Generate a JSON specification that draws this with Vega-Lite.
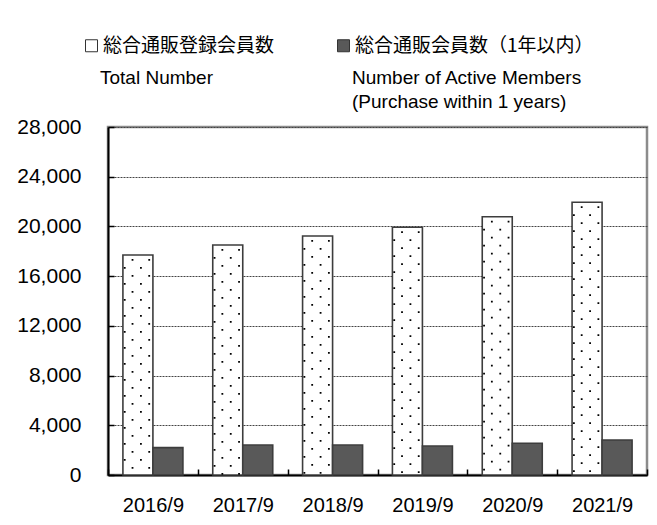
{
  "$schema": "https://vega.github.io/schema/vega-lite/v6.json",
  "autosize": "none",
  "padding": {"left": 108, "top": 127, "right": 10, "bottom": 50},
  "width": 539,
  "height": 348,
  "background": "white",
  "data": {
    "values": [
      {"date": "2016/9", "series": "総合通販登録会員数", "series_en": "Total Number", "value": 17700},
      {"date": "2016/9", "series": "総合通販会員数（1年以内）", "series_en": "Number of Active Members (Purchase within 1 years)", "value": 2200},
      {"date": "2017/9", "series": "総合通販登録会員数", "series_en": "Total Number", "value": 18500},
      {"date": "2017/9", "series": "総合通販会員数（1年以内）", "series_en": "Number of Active Members (Purchase within 1 years)", "value": 2410},
      {"date": "2018/9", "series": "総合通販登録会員数", "series_en": "Total Number", "value": 19230},
      {"date": "2018/9", "series": "総合通販会員数（1年以内）", "series_en": "Number of Active Members (Purchase within 1 years)", "value": 2410},
      {"date": "2019/9", "series": "総合通販登録会員数", "series_en": "Total Number", "value": 19930},
      {"date": "2019/9", "series": "総合通販会員数（1年以内）", "series_en": "Number of Active Members (Purchase within 1 years)", "value": 2330},
      {"date": "2020/9", "series": "総合通販登録会員数", "series_en": "Total Number", "value": 20780},
      {"date": "2020/9", "series": "総合通販会員数（1年以内）", "series_en": "Number of Active Members (Purchase within 1 years)", "value": 2550},
      {"date": "2021/9", "series": "総合通販登録会員数", "series_en": "Total Number", "value": 21940},
      {"date": "2021/9", "series": "総合通販会員数（1年以内）", "series_en": "Number of Active Members (Purchase within 1 years)", "value": 2820}
    ]
  },
  "encoding": {
    "x": {
      "field": "date", "type": "nominal", "sort": null,
      "scale": {"paddingInner": 0, "paddingOuter": 0},
      "axis": {
        "title": null, "labelAngle": 0, "domainColor": "black", "domainWidth": 2,
        "tickBand": "extent", "tickColor": "black", "tickSize": -6, "tickWidth": 1.5,
        "labelFont": "Liberation Sans", "labelFontSize": 20, "labelFontWeight": "normal", "labelColor": "black",
        "labelPadding": 26, "grid": false
      }
    }
  },
  "layer": [
    {
      "mark": {"type": "bar", "stroke": "#3d3d3d", "strokeWidth": 1.6},
      "encoding": {
        "xOffset": {"field": "series", "type": "nominal", "sort": null, "scale": {"paddingInner": 0, "paddingOuter": 0.497}},
        "y": {
          "field": "value", "type": "quantitative",
          "scale": {"domain": [0, 28000]},
          "axis": {
            "title": null, "values": [0, 4000, 8000, 12000, 16000, 20000, 24000, 28000],
            "labelExpr": "format(datum.value, ',.0f')",
            "domainColor": "black", "domainWidth": 2, "tickColor": "black", "tickSize": -6, "tickWidth": 1.5,
            "labelFont": "Liberation Sans", "labelFontSize": 21, "labelFontWeight": "normal", "labelColor": "black",
            "labelPadding": 33,
            "grid": true, "gridColor": "#444", "gridDash": [2, 1], "gridWidth": 1
          }
        },
        "fill": {
          "field": "series", "type": "nominal",
          "scale": {"domain": ["総合通販登録会員数", "総合通販会員数（1年以内）"], "range": ["white", "#595959"]},
          "legend": {
            "orient": "none", "legendX": -26, "legendY": -91, "direction": "horizontal", "title": null,
            "padding": 0, "symbolType": "square", "symbolSize": 144, "symbolStrokeColor": "#333", "symbolStrokeWidth": 1,
            "labelFont": "Noto Sans CJK JP", "labelFontSize": 19, "labelColor": "black", "labelOffset": 2,
            "columnPadding": 59, "labelLimit": 400
          }
        },
        "opacity": {
          "field": "series_en", "type": "nominal",
          "scale": {"domain": ["Total Number", "Number of Active Members (Purchase within 1 years)"], "range": [1, 1]},
          "legend": {
            "orient": "none", "legendX": -27, "legendY": -59, "direction": "horizontal", "title": null,
            "padding": 0, "symbolSize": 0, "symbolOpacity": 0, "labelOffset": 0,
            "labelFont": "Liberation Sans", "labelFontSize": 19, "labelColor": "black", "labelLimit": 400,
            "labelExpr": "datum.label == 'Total Number' ? ['Total Number', ' '] : ['Number of Active Members', '(Purchase within 1 years)']",
            "columnPadding": 120
          }
        }
      }
    },
    {
      "transform": [{"filter": "datum.series == '総合通販登録会員数'"}],
      "mark": {"type": "rule", "xOffset": -20.4, "color": "black", "strokeWidth": 1.8, "strokeDash": [1.8, 14.2], "strokeDashOffset": 12, "strokeCap": "butt"},
      "encoding": {"y": {"field": "value", "type": "quantitative"}, "y2": {"datum": 0}}
    },
    {
      "transform": [{"filter": "datum.series == '総合通販登録会員数'"}],
      "mark": {"type": "rule", "xOffset": -3.7, "color": "black", "strokeWidth": 1.8, "strokeDash": [1.8, 14.2], "strokeDashOffset": 12, "strokeCap": "butt"},
      "encoding": {"y": {"field": "value", "type": "quantitative"}, "y2": {"datum": 0}}
    },
    {
      "transform": [{"filter": "datum.series == '総合通販登録会員数'"}],
      "mark": {"type": "rule", "xOffset": -28.2, "color": "black", "strokeWidth": 1.8, "strokeDash": [1.8, 14.2], "strokeDashOffset": 4, "strokeCap": "butt"},
      "encoding": {"y": {"field": "value", "type": "quantitative"}, "y2": {"datum": 0}}
    },
    {
      "transform": [{"filter": "datum.series == '総合通販登録会員数'"}],
      "mark": {"type": "rule", "xOffset": -12, "color": "black", "strokeWidth": 1.8, "strokeDash": [1.8, 14.2], "strokeDashOffset": 4, "strokeCap": "butt"},
      "encoding": {"y": {"field": "value", "type": "quantitative"}, "y2": {"datum": 0}}
    }
  ],
  "config": {
    "view": {"stroke": "#8c8c8c", "strokeWidth": 2.5},
    "style": {"guide-label": {"lineHeight": 24}}
  }
}
